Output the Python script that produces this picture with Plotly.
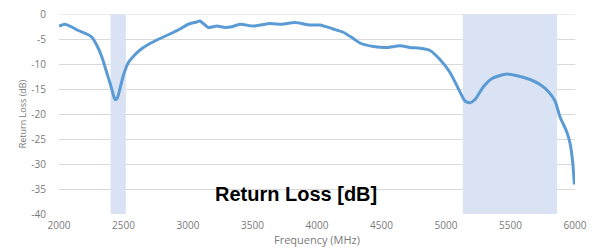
import plotly.graph_objects as go

freq_mhz = [2000, 2047, 2098, 2150, 2215, 2253, 2292, 2331, 2370, 2408, 2434, 2452, 2473, 2499,
            2537, 2576, 2628, 2705, 2783, 2860, 2938, 3002, 3067, 3093, 3157, 3222, 3287, 3339,
            3403, 3506, 3636, 3726, 3829, 3946, 4023, 4126, 4204, 4281, 4333, 4437, 4540, 4643,
            4721, 4798, 4876, 4953, 5031, 5095, 5147, 5186, 5225, 5289, 5354, 5419, 5470, 5560,
            5651, 5729, 5793, 5845, 5884, 5935, 5961, 5982, 5995]
return_loss_db = [-2.4, -2.05, -2.6, -3.3, -4.0, -4.6, -6.2, -8.5, -11.7, -14.9, -17.1, -16.8, -14.9, -12.3,
                  -9.75, -8.5, -7.2, -5.9, -4.9, -4.0, -3.0, -2.05, -1.6, -1.4, -2.7, -2.4, -2.7, -2.55,
                  -2.05, -2.4, -1.9, -2.05, -1.7, -2.2, -2.2, -3.0, -3.65, -4.9, -5.8, -6.5, -6.7, -6.35,
                  -6.7, -6.85, -7.3, -9.1, -11.7, -14.9, -17.4, -17.75, -17.1, -14.6, -12.95, -12.3, -12.0, -12.4,
                  -13.1, -14.1, -15.5, -17.4, -20.6, -23.5, -25.8, -29.6, -34.1]

band_starts = [2400, 5130]
band_ends = [2518, 5860]

x_ticks = [2000, 2500, 3000, 3500, 4000, 4500, 5000, 5500, 6000]
y_ticks = [0, -5, -10, -15, -20, -25, -30, -35, -40]

fig = go.Figure()
fig.add_trace(go.Scatter(
    x=freq_mhz, y=return_loss_db, mode="lines",
    line=dict(color="#5B9BD5", width=3, shape="spline", smoothing=0.6),
    showlegend=False, hoverinfo="skip"))

for s, e in zip(band_starts, band_ends):
    fig.add_shape(type="rect", xref="x", yref="y", x0=s, x1=e, y0=-40, y1=0,
                  fillcolor="#DAE3F3", line=dict(width=0), layer="between")

# top gridline at 0 dB (edge of range)
fig.add_shape(type="line", xref="paper", yref="y", x0=0, x1=1, y0=y_ticks[0], y1=y_ticks[0],
              line=dict(color="#D9D9D9", width=1), layer="below")

tick_font = dict(family="Open Sans", size=10, color="#7a7a7a")
fig.update_layout(
    width=600, height=252,
    margin=dict(l=59, r=25, t=6, b=38),
    paper_bgcolor="white", plot_bgcolor="white",
    xaxis=dict(range=[2000, 6000], tickvals=x_ticks, ticktext=[str(v) for v in x_ticks],
               showgrid=False, zeroline=False, showline=False, ticks="",
               tickfont=tick_font, ticklabelstandoff=4, ticklabeloverflow="allow",
               title=dict(text="Frequency (MHz)", font=dict(family="Open Sans", size=11, color="#7a7a7a"),
                          standoff=4)),
    yaxis=dict(range=[-40, 0], tickvals=y_ticks, ticktext=[str(v) for v in y_ticks],
               showgrid=True, gridcolor="#D9D9D9", gridwidth=1, zeroline=False, showline=False,
               ticks="", tickfont=tick_font, ticklabelstandoff=12, ticklabeloverflow="allow",
               title=dict(text="Return Loss (dB)", font=dict(family="Open Sans", size=9, color="#7a7a7a"),
                          standoff=3)),
    annotations=[dict(text="<b>Return Loss [dB]</b>", xref="paper", yref="paper",
                      x=0.46, y=0.1, xanchor="center", yanchor="middle", showarrow=False,
                      font=dict(family="Liberation Sans", size=20, color="black"))],
)

fig.write_html("out.html")
